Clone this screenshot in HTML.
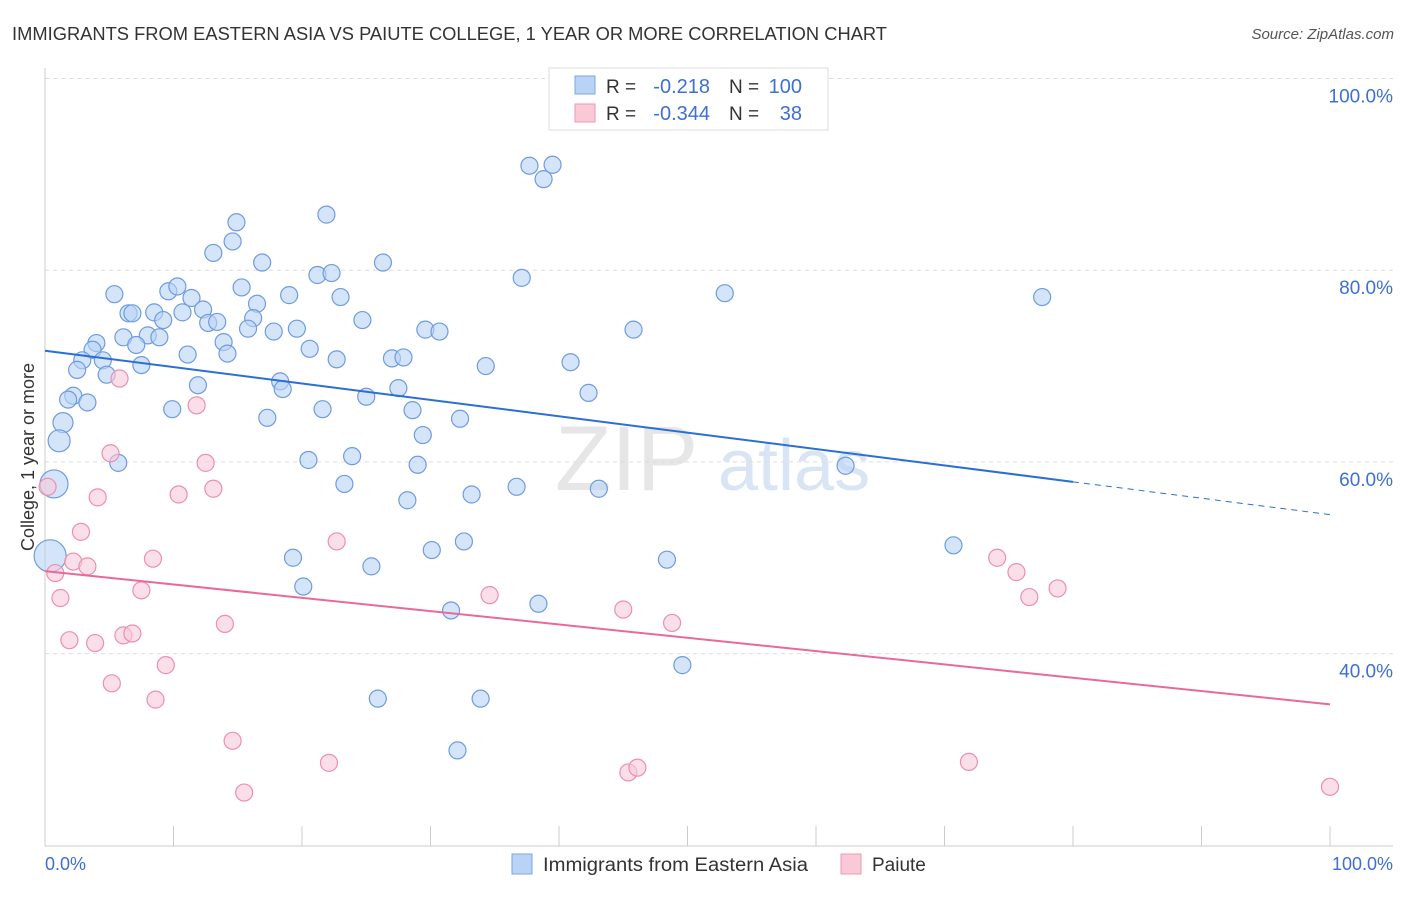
<!DOCTYPE html>
<html><head><meta charset="utf-8"><style>
body{margin:0;background:#fff;font-family:"Liberation Sans",sans-serif;}
svg text{font-family:"Liberation Sans",sans-serif;}
</style></head><body>
<svg id="chart" width="1406" height="892">
<text x="12" y="40" font-size="18" fill="#333" textLength="875" lengthAdjust="spacingAndGlyphs">IMMIGRANTS FROM EASTERN ASIA VS PAIUTE COLLEGE, 1 YEAR OR MORE CORRELATION CHART</text>
<text x="1394" y="39" font-size="15" fill="#555" font-style="italic" text-anchor="end">Source: ZipAtlas.com</text>
<g><text x="555" y="490" font-size="92" fill="#e6e6e6" font-family="Liberation Serif">ZIP</text><text x="718" y="490" font-size="72" fill="#d9e4f5">atlas</text></g>
<g id="grid"></g><g id="marks"></g>
<text transform="translate(34,457) rotate(-90)" font-size="18" fill="#333" text-anchor="middle">College, 1 year or more</text>
<g>
<rect x="549" y="68" width="279" height="62" fill="#fff" stroke="#ddd"/>
<rect x="575" y="76" width="20" height="18" fill="#b9d3f5" stroke="#7aa6e6"/>
<rect x="575" y="104" width="20" height="18" fill="#f9c9d8" stroke="#ee99b4"/>
<text x="606" y="93" font-size="19" fill="#333">R =</text>
<text x="710" y="93" font-size="20" fill="#3d6fd4" text-anchor="end">-0.218</text>
<text x="729" y="93" font-size="19" fill="#333">N =</text>
<text x="802" y="93" font-size="20" fill="#3d6fd4" text-anchor="end">100</text>
<text x="606" y="120" font-size="19" fill="#333">R =</text>
<text x="710" y="120" font-size="20" fill="#3d6fd4" text-anchor="end">-0.344</text>
<text x="729" y="120" font-size="19" fill="#333">N =</text>
<text x="802" y="120" font-size="20" fill="#3d6fd4" text-anchor="end">38</text>
</g>
<g>
<rect x="512" y="854" width="20" height="20" fill="#b9d3f5" stroke="#7aa6e6"/>
<text x="543" y="871" font-size="19" fill="#333" textLength="265" lengthAdjust="spacingAndGlyphs">Immigrants from Eastern Asia</text>
<rect x="841" y="854" width="20" height="20" fill="#f9c9d8" stroke="#ee99b4"/>
<text x="872" y="871" font-size="19" fill="#333">Paiute</text>
</g>
<text x="45" y="870" font-size="18" fill="#3d6fd4">0.0%</text>
<text x="1393" y="870" font-size="18" fill="#3d6fd4" text-anchor="end">100.0%</text>
</svg>
<script>
const yTicks=[100,80,60,40];
const yTickLabels=["100.0%","80.0%","60.0%","40.0%"];
const xTicks=[0,10,20,30,40,50,60,70,80,90,100];
const blueX=[37.7,39.5,38.8,21.9,14.9,14.6,13.1,16.9,26.3,37.1,21.2,22.3,15.3,5.4,9.6,10.3,11.4,19.0,23.0,16.5,12.3,6.5,6.8,8.5,10.7,9.2,12.7,13.4,16.2,24.7,19.6,17.8,15.8,8.0,6.1,8.9,4.0,13.9,7.1,29.6,30.7,45.8,52.9,77.6,20.6,3.7,11.1,14.2,2.9,4.5,22.7,27.0,27.9,40.9,34.3,7.5,2.5,4.8,18.3,11.9,18.5,27.5,42.3,2.2,1.8,3.3,9.9,25.0,21.6,28.6,17.3,32.3,1.4,1.1,29.4,5.7,20.5,23.9,29.0,62.3,0.7,23.3,36.7,43.1,33.2,28.2,0.4,19.3,32.6,30.1,70.7,48.4,25.4,20.1,38.4,31.6,49.6,25.9,33.9,32.1];
const blueY=[90.9,91.0,89.5,85.8,85.0,83.0,81.8,80.8,80.8,79.2,79.5,79.7,78.2,77.5,77.8,78.3,77.1,77.4,77.2,76.5,75.9,75.5,75.5,75.6,75.6,74.8,74.5,74.6,75.0,74.8,73.9,73.6,73.9,73.2,73.0,73.0,72.4,72.5,72.2,73.8,73.6,73.8,77.6,77.2,71.8,71.7,71.2,71.3,70.6,70.6,70.7,70.8,70.9,70.4,70.0,70.1,69.6,69.1,68.4,68.0,67.6,67.7,67.2,66.9,66.5,66.2,65.5,66.8,65.5,65.4,64.6,64.5,64.1,62.2,62.8,59.9,60.2,60.6,59.7,59.6,57.7,57.7,57.4,57.2,56.6,56.0,50.2,50.0,51.7,50.8,51.3,49.8,49.1,47.0,45.2,44.5,38.8,35.3,35.3,29.9];
const pinkX=[5.8,11.8,5.1,12.5,13.1,4.1,10.4,2.8,22.7,8.4,2.2,3.3,0.8,1.2,7.5,1.9,3.9,6.1,6.8,14.0,9.4,5.2,8.6,14.6,15.5,22.1,34.6,45.0,48.8,45.4,46.1,74.1,75.6,76.6,78.8,71.9,100,0.2];
const pinkY=[68.7,65.9,60.9,59.9,57.2,56.3,56.6,52.7,51.7,49.9,49.6,49.1,48.4,45.8,46.6,41.4,41.1,41.9,42.1,43.1,38.8,36.9,35.2,30.9,25.5,28.6,46.1,44.6,43.2,27.6,28.1,50.0,48.5,45.9,46.8,28.7,26.1,57.4];
const blueTrend=[71.6,54.5];
const pinkTrend=[48.6,34.7];
const NS="http://www.w3.org/2000/svg";
const xs=v=>45+v*12.85;
const ys=v=>1037-v*9.585;
function mk(tag,attrs,parent){const e=document.createElementNS(NS,tag);for(const k in attrs)e.setAttribute(k,attrs[k]);parent.appendChild(e);return e;}
const grid=document.getElementById('grid'),marks=document.getElementById('marks');
yTicks.forEach((t,i)=>{
 const l=mk('line',{x1:45,x2:1393,y1:ys(t),y2:ys(t),stroke:'#ddd','stroke-dasharray':'4,4'},grid);
 
 
 const tx=mk('text',{x:1393,y:ys(t)+24,'font-size':19,fill:'#3d6fd4','text-anchor':'end'},grid);
 tx.textContent=yTickLabels[i];
 
 
});
let ax=mk('line',{x1:45,x2:45,y1:68,y2:846,stroke:'#ccc'},grid);


ax=mk('line',{x1:45,x2:1393,y1:846,y2:846,stroke:'#ccc'},grid);


xTicks.forEach(t=>{
 const l=mk('line',{x1:xs(t),x2:xs(t),y1:826,y2:846,stroke:'#ccc'},grid);
 
 
});
function pt(x,y,r,fill,stroke,name){
 const c=mk('circle',{cx:xs(x),cy:ys(y),r:r,fill:fill,'fill-opacity':0.6,stroke:stroke,'stroke-width':1.2},marks);
 
 
}
blueX.forEach((x,i)=>{let r=8.5;if(x<1.5)r=x<0.5?16:(x<0.8?14:(x<1.2?11:10));pt(x,blueY[i],r,'#b9d3f5','#6f9be0','blue-point');});
pinkX.forEach((x,i)=>pt(x,pinkY[i],8.5,'#f9c9d8','#ec8fae','pink-point'));
const bl=(blueTrend[1]-blueTrend[0])/100;
let t=mk('line',{x1:xs(0),y1:ys(blueTrend[0]),x2:xs(80),y2:ys(blueTrend[0]+bl*80),stroke:'#2a6fd6','stroke-width':2},marks);


t=mk('line',{x1:xs(80),y1:ys(blueTrend[0]+bl*80),x2:xs(100),y2:ys(blueTrend[1]),stroke:'#2a6fd6','stroke-width':1,'stroke-dasharray':'6,5'},marks);


t=mk('line',{x1:xs(0),y1:ys(pinkTrend[0]),x2:xs(100),y2:ys(pinkTrend[1]),stroke:'#e8699a','stroke-width':2},marks);


</script>
</body></html>
